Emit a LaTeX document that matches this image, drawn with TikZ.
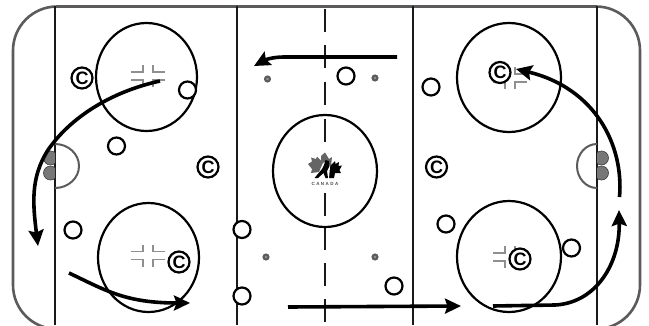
\documentclass[tikz,border=0pt]{standalone}
\usepackage{fontspec}
\setmainfont{Liberation Sans}
\usepackage{xcolor}
\usetikzlibrary{arrows.meta}

\definecolor{boardgray}{HTML}{5C5A5B}
\definecolor{hashgray}{HTML}{8F8F8F}
\definecolor{goalgray}{HTML}{777777}

\tikzset{
    rinkline/.style={line width=2.3pt, black!90},
    faceoff/.style={line width=2.2pt, black},
    player/.style={draw=black, line width=2.2pt, fill=white, circle, minimum size=17pt, inner sep=0pt},
    coach/.style={draw=black, line width=2.2pt, fill=white, circle, minimum size=21pt, inner sep=0pt,
        font=\fontsize{18}{18}\selectfont\bfseries},
    dot/.style={circle, draw=boardgray, line width=2pt, fill=hashgray, minimum size=5pt, inner sep=0pt},
    goalpost/.style={circle, draw=boardgray!70!black, line width=0.6pt, fill=goalgray, minimum size=14pt, inner sep=0pt},
    skate/.style={line width=3.6pt, black, -{Stealth[length=16pt, width=15pt, inset=2.5pt]}},
    pics/hashmark/.style={code={
        \draw[hashgray, line width=1.2pt] (-17,-4) -- (-5,-4) -- (-5,-11);
        \draw[hashgray, line width=1.2pt] (17,-4) -- (5,-4) -- (5,-11);
        \draw[hashgray, line width=1.2pt] (-17,4) -- (-5,4) -- (-5,11);
        \draw[hashgray, line width=1.2pt] (17,4) -- (5,4) -- (5,11);
    }}
}

\begin{document}
\begin{tikzpicture}[x=1pt, y=-1pt]

    \useasboundingbox (0,0) rectangle (649,325);

    % =================================================================
    % 1. BOARDS AND LINES
    % =================================================================
    \draw[boardgray, line width=2.6pt, rounded corners=44pt] (13,6.5) rectangle (640,329);

    % Goal lines and blue lines
    \draw[rinkline] (55,6) -- (55,325);
    \draw[rinkline] (237,6) -- (237,325);
    \draw[rinkline] (413,6) -- (413,325);
    \draw[rinkline] (597,6) -- (597,325);

    % Centre line
    \draw[rinkline, dash pattern=on 23pt off 13.3pt] (325,9) -- (325,325);

    % =================================================================
    % 2. CREASES AND GOALS
    % =================================================================
    \draw[boardgray, line width=2pt] (55,144) arc[start angle=-90, end angle=90, x radius=24pt, y radius=-22pt];
    \draw[boardgray, line width=2pt] (597,144) arc[start angle=-90, end angle=-270, x radius=20pt, y radius=-22pt];

    \begin{scope}
        \clip (40,140) rectangle (55,190);
        \node[goalpost] (goalLa) at (50.5,158) {};
        \node[goalpost] (goalLb) at (50.5,173) {};
    \end{scope}
    \begin{scope}
        \clip (597,140) rectangle (612,190);
        \node[goalpost] (goalRa) at (601.5,158) {};
        \node[goalpost] (goalRb) at (601.5,173) {};
    \end{scope}

    % =================================================================
    % 3. FACE-OFF CIRCLES AND DOTS
    % =================================================================
    \draw[faceoff] (146.5,77) circle[x radius=50.5pt, y radius=54pt];
    \draw[faceoff] (148.5,257.5) circle[x radius=50.5pt, y radius=54.5pt];
    \draw[faceoff] (509,77.5) circle[x radius=52pt, y radius=54.5pt];
    \draw[faceoff] (509,256.5) circle[x radius=52pt, y radius=55.5pt];
    \draw[faceoff, fill=white] (325,171) circle[x radius=52pt, y radius=56pt];
    \draw[rinkline] (325,119) -- (325,142);
    \draw[rinkline] (325,193) -- (325,216);

    \pic at (148,76) {hashmark};
    \pic at (148,255.5) {hashmark};
    \pic at (510,78) {hashmark};
    \pic at (510,257) {hashmark};

    \node[dot] (dotA) at (267.5,79) {};
    \node[dot] (dotB) at (375,78) {};
    \node[dot] (dotC) at (266,257) {};
    \node[dot] (dotD) at (375,257) {};

    % =================================================================
    % 4. CENTRE LOGO
    % =================================================================
    % Grey half of the leaf
    \fill[goalgray!85!black] (325,152.5) -- (329,159) -- (332,157) -- (331,166) -- (326,172) -- (320,176)
        -- (319,172) -- (311,173) -- (312,169) -- (308,164) -- (312,161.5) -- (311,157.5) -- (316,159)
        -- (317,156.5) -- (321,160.5) -- (321,156) -- cycle;
    % Black half of the leaf
    \fill[black] (331,165) -- (335,161) -- (335.5,164) -- (339,162) -- (338.5,166) -- (342,165.5)
        -- (339.5,170) -- (341,173) -- (335,173) -- (334,178) -- (329,178) -- (328,172) -- cycle;
    % Skater
    \fill[white] (323,163) -- (328,161) -- (330,167) -- (329,178) -- (316,179) -- cycle;
    \fill[black] (325.5,160) -- (329,161) -- (329.5,166) -- (327,171) -- (328,178) -- (325.5,178) -- (323.5,173)
        -- (318,178) -- (314.5,178) -- (322,169) -- (324,165) -- cycle;
    \node[font=\fontsize{4.5}{4.5}\selectfont\bfseries, text=black!70, inner sep=0pt] (canadaText) at (325,183.5) {C\,\,A\,\,N\,\,A\,\,D\,\,A};

    % =================================================================
    % 5. PLAYERS
    % =================================================================
    \node[player] (playerA) at (187.5,90) {};
    \node[player] (playerB) at (116.5,146) {};
    \node[player] (playerC) at (73,230) {};
    \node[player] (playerD) at (242,229.5) {};
    \node[player] (playerE) at (242,296) {};
    \node[player] (playerF) at (346,76) {};
    \node[player] (playerG) at (394,286) {};
    \node[player] (playerH) at (431,87) {};
    \node[player] (playerI) at (446,224) {};
    \node[player] (playerJ) at (571.5,248) {};

    \node[coach] (coachA) at (82,78) {C};
    \node[coach] (coachB) at (179,262) {C};
    \node[coach] (coachC) at (208,167) {C};
    \node[coach] (coachD) at (500,72.5) {C};
    \node[coach] (coachE) at (436.5,167) {C};
    \node[coach] (coachF) at (520,259) {C};

    % =================================================================
    % 6. SKATING PATHS
    % =================================================================
    \draw[skate] (160,81) .. controls (110,92) and (70,118) .. (48,150) .. controls (30,178) and (33,205) .. (38,246);
    \draw[skate] (69,273) .. controls (105,290) and (125,303) .. (190,303);
    \draw[skate] (397,57) -- (284,57) .. controls (272,57) and (265,60) .. (254,66);
    \draw[skate] (288,307) -- (461,306);
    \draw[skate] (493,306) -- (555,305) .. controls (595,303) and (620,265) .. (619,210);
    \draw[skate] (619.5,197) .. controls (624,145) and (595,88) .. (516,69);

\end{tikzpicture}
\end{document}
